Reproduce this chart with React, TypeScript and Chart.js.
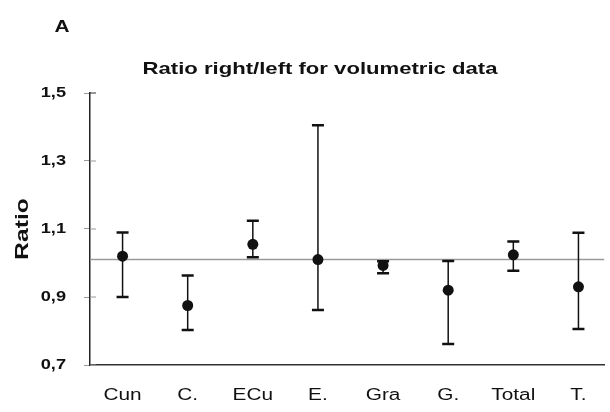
import { useEffect, useRef } from 'react';
import { Chart, registerables } from 'chart.js';

Chart.register(...registerables);

const panelLabel = 'A';
const chartTitle = 'Ratio right/left for volumetric data';
const yAxisTitle = 'Ratio';
const categories = ['Cun', 'C.', 'ECu', 'E.', 'Gra', 'G.', 'Total', 'T.'];
const ratioMean = [1.02, 0.875, 1.055, 1.01, 0.993, 0.92, 1.024, 0.93];
const ratioUpper = [1.09, 0.963, 1.124, 1.405, 1.005, 1.006, 1.063, 1.089];
const ratioLower = [0.9, 0.803, 1.017, 0.862, 0.97, 0.762, 0.977, 0.806];
const referenceRatio = 1.01;
const yTickValues = [0.7, 0.9, 1.1, 1.3, 1.5];
const yTickLabels = ['0,7', '0,9', '1,1', '1,3', '1,5'];

const FONT = '"Liberation Sans", Arial, Helvetica, sans-serif';
const STRETCH = 1.3;
const INK = '#111';

const stretchTextPlugin = {
  id: 'stretchText',
  beforeDraw(chart: any) {
    const ctx = chart.ctx;
    const orig = CanvasRenderingContext2D.prototype.fillText;
    ctx.fillText = function (text: string, x: number, y: number, maxWidth?: number) {
      this.save();
      this.translate(x, y);
      this.scale(STRETCH, 1);
      if (maxWidth === undefined) orig.call(this, text, 0, 0);
      else orig.call(this, text, 0, 0, maxWidth / STRETCH);
      this.restore();
    };
  },
  afterDraw(chart: any) {
    const ctx = chart.ctx;
    delete ctx.fillText;
    // inner tick marks on the y axis, placed by the y scale
    const ys = chart.scales.y;
    const left = chart.chartArea.left;
    ctx.save();
    ctx.lineWidth = 1;
    yTickValues.forEach((v, i) => {
      const py = ys.getPixelForValue(v);
      ctx.strokeStyle = i === yTickValues.length - 1 ? '#333' : '#999';
      ctx.beginPath();
      ctx.moveTo(left, py);
      ctx.lineTo(left + 6, py);
      ctx.stroke();
    });
    ctx.restore();

    const drawText = (text: string, cx: number, cy: number, font: string) => {
      ctx.save();
      ctx.font = font;
      ctx.fillStyle = INK;
      ctx.textAlign = 'center';
      ctx.textBaseline = 'middle';
      ctx.translate(cx, cy);
      ctx.scale(STRETCH, 1);
      ctx.fillText(text, 0, 0);
      ctx.restore();
    };
    drawText(panelLabel, 62, 28, `bold 16px ${FONT}`);
    drawText(chartTitle, 320, 69, `bold 17px ${FONT}`);
  },
};

const errorBarPlugin = {
  id: 'errorBars',
  beforeDatasetDraw(chart: any, args: any) {
    if (args.index !== 0) return;
    const { ctx } = chart;
    const xs = chart.scales.x;
    const ys = chart.scales.y;
    ctx.save();
    ctx.strokeStyle = INK;
    categories.forEach((_, i) => {
      const px = xs.getPixelForValue(i);
      const top = ys.getPixelForValue(ratioUpper[i]);
      const bot = ys.getPixelForValue(ratioLower[i]);
      ctx.lineWidth = 1.5;
      ctx.beginPath();
      ctx.moveTo(px, top);
      ctx.lineTo(px, bot);
      ctx.stroke();
      ctx.lineWidth = 2.5;
      ctx.beginPath();
      ctx.moveTo(px - 6, top);
      ctx.lineTo(px + 6, top);
      ctx.moveTo(px - 6, bot);
      ctx.lineTo(px + 6, bot);
      ctx.stroke();
    });
    ctx.restore();
  },
};

export default function App() {
  const canvasRef = useRef<HTMLCanvasElement | null>(null);

  useEffect(() => {
    if (!canvasRef.current) return;
    const chart = new Chart(canvasRef.current, {
      type: 'scatter',
      data: {
        datasets: [
          {
            type: 'scatter',
            data: ratioMean.map((v, i) => ({ x: i, y: v })),
            pointRadius: 5.5,
            pointBackgroundColor: INK,
            pointBorderWidth: 0,
            showLine: false,
          } as any,
          {
            type: 'line',
            data: [
              { x: -0.5, y: referenceRatio },
              { x: 7.4, y: referenceRatio },
            ],
            borderColor: '#9a9a9a',
            borderWidth: 1.5,
            pointRadius: 0,
            fill: false,
          } as any,
        ],
      },
      plugins: [stretchTextPlugin, errorBarPlugin],
      options: {
        responsive: false,
        animation: false,
        devicePixelRatio: 1,
        layout: { padding: { top: 93, left: 0, right: 0, bottom: 0 } },
        plugins: {
          legend: { display: false },
          tooltip: { enabled: false },
          title: { display: false },
        },
        scales: {
          x: {
            type: 'linear',
            min: -0.5,
            max: 7.4,
            afterFit: (s: any) => {
              s.height = 47;
            },
            afterBuildTicks: (s: any) => {
              s.ticks = categories.map((_, i) => ({ value: i }));
            },
            grid: { display: false, drawTicks: false },
            border: { display: true, color: '#333', width: 1.5 },
            ticks: {
              autoSkip: false,
              maxRotation: 0,
              padding: 21,
              color: INK,
              font: { family: FONT, size: 16 },
              callback: (v: any) => categories[Math.round(Number(v))] ?? '',
            },
          },
          y: {
            type: 'linear',
            min: 0.7,
            max: 1.5,
            afterFit: (s: any) => {
              s.width = 90;
            },
            afterBuildTicks: (s: any) => {
              s.ticks = yTickValues.map((v) => ({ value: v }));
            },
            grid: { display: true, drawOnChartArea: false, drawTicks: true, tickLength: 6, color: '#999' },
            border: { display: true, color: '#222', width: 1.5 },
            ticks: {
              padding: 18,
              color: INK,
              font: { family: FONT, size: 14, weight: 'bold' },
              callback: (_v: any, i: number) => yTickLabels[i],
            },
            title: {
              display: true,
              text: yAxisTitle,
              color: INK,
              font: { family: FONT, size: 19, weight: 'bold' },
              padding: { top: 11, bottom: 0 },
            },
          },
        },
      } as any,
    });
    return () => chart.destroy();
  }, []);

  return (
    <div style={{ position: 'absolute', left: 0, top: 0, width: 610, height: 412, background: '#fff' }}>
      <canvas ref={canvasRef} width={610} height={412} style={{ display: 'block' }} />
    </div>
  );
}
